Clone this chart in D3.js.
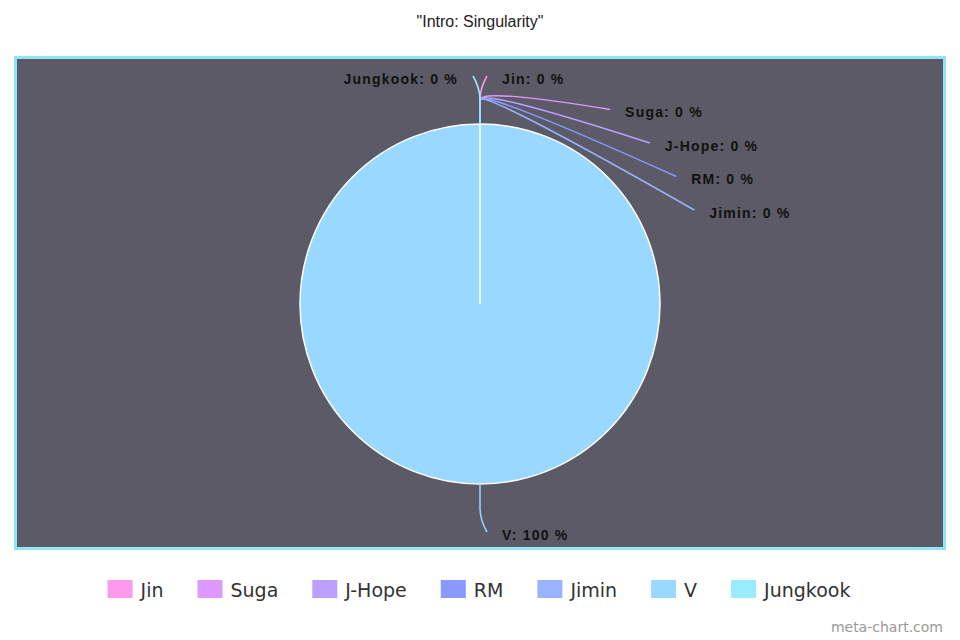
<!DOCTYPE html>
<html>
<head>
<meta charset="utf-8">
<script src="https://cdn.jsdelivr.net/npm/d3@7"></script>
<style>
  html, body { margin: 0; padding: 0; background: #ffffff; }
  svg { display: block; }
</style>
</head>
<body>
<svg id="chart" width="960" height="640"></svg>
<script>
// ---- data ----
const categories = ["Jin", "Suga", "J-Hope", "RM", "Jimin", "V", "Jungkook"];
const values = [0, 0, 0, 0, 0, 100, 0];
const colors = ["#ff99ee", "#dd99ff", "#bba0ff", "#8899ff", "#99b3ff", "#99d9ff", "#99ecff"];
const title = "\"Intro: Singularity\"";
const watermark = "meta-chart.com";

const data = categories.map((c, i) => ({ name: c, value: values[i], color: colors[i] }));
const total = d3.sum(values);

const svg = d3.select("#chart");
const W = 960, H = 640;

// title
svg.append("text")
  .attr("x", W / 2).attr("y", 27)
  .attr("text-anchor", "middle")
  .attr("font-family", "Liberation Sans, Arial, sans-serif")
  .attr("font-size", 16)
  .attr("fill", "#222")
  .text(title);

// plot box
svg.append("rect")
  .attr("x", 15.5).attr("y", 57.5)
  .attr("width", 929).attr("height", 491)
  .attr("fill", "#5b5a66")
  .attr("stroke", "#8fe6f7")
  .attr("stroke-width", 3);

const cx = 480, cy = 304, r = 180;
const g = svg.append("g").attr("transform", `translate(${cx},${cy})`);

const pie = d3.pie().sort(null).value(d => d.value);
const arcs = pie(data);
const arc = d3.arc().innerRadius(0).outerRadius(r);

g.selectAll("path.slice")
  .data(arcs)
  .join("path")
  .attr("class", "slice")
  .attr("d", arc)
  .attr("fill", d => d.data.color)
  .attr("stroke", "#ffffff")
  .attr("stroke-width", 1.5);

// label layout
const labelRy = 228, labelRx = 234, spacing = 33.5, minOff = 7;
const labels = arcs.map(d => {
  const a = (d.startAngle + d.endAngle) / 2;
  const y0 = -labelRy * Math.cos(a);
  return { d, a, right: a <= Math.PI + 1e-9, y: y0, y0 };
});
function place(group, sign) {
  group.sort((p, q) => p.y - q.y);
  for (let i = 1; i < group.length; i++) {
    if (group[i].y < group[i - 1].y + spacing) group[i].y = group[i - 1].y + spacing;
  }
  group.forEach(l => {
    const dx = (l.y === l.y0)
      ? Math.abs(labelRx * Math.sin(l.a))
      : Math.sqrt(Math.max(0, labelRx * labelRx - l.y * l.y));
    l.x = sign * Math.max(minOff, dx);
  });
}
place(labels.filter(l => l.right), 1);
place(labels.filter(l => !l.right), -1);

g.selectAll("path.leader")
  .data(labels)
  .join("path")
  .attr("class", "leader")
  .attr("fill", "none")
  .attr("stroke", l => l.d.data.color)
  .attr("stroke-width", 1.5)
  .attr("d", l => {
    const ux = Math.sin(l.a), uy = -Math.cos(l.a);
    const p = d3.path();
    p.moveTo(r * ux, r * uy);
    p.lineTo((r + 24) * ux, (r + 24) * uy);
    p.quadraticCurveTo((r + 36) * ux, (r + 36) * uy, l.x, l.y);
    return p.toString();
  });

g.selectAll("text.lbl")
  .data(labels)
  .join("text")
  .attr("class", "lbl")
  .attr("x", l => l.x + (l.right ? 15 : -15))
  .attr("y", l => l.y + 3)
  .attr("dy", "0.35em")
  .attr("text-anchor", l => l.right ? "start" : "end")
  .attr("font-family", "Liberation Sans, Arial, sans-serif")
  .attr("font-size", 14)
  .attr("font-weight", "bold")
  .attr("letter-spacing", "1.2px")
  .attr("fill", "#111")
  .text(l => `${l.d.data.name}: ${Math.round(l.d.data.value / total * 100)} %`);

// legend
const legend = svg.append("g");
const items = legend.selectAll("g.item")
  .data(data)
  .join("g")
  .attr("class", "item");
items.append("rect")
  .attr("width", 25).attr("height", 18)
  .attr("y", 580)
  .attr("fill", d => d.color);
items.append("text")
  .attr("x", 33).attr("y", 597)
  .attr("font-family", "DejaVu Sans, sans-serif")
  .attr("font-size", 19)
  .attr("fill", "#333")
  .text(d => d.name);
let xs = 0;
const offsets = [];
items.each(function () {
  const tw = d3.select(this).select("text").node().getComputedTextLength();
  offsets.push(xs);
  xs += 33 + tw + 34;
});
const totalW = xs - 34;
const startX = 479 - totalW / 2;
items.attr("transform", (d, i) => `translate(${startX + offsets[i]},0)`);

// watermark
svg.append("text")
  .attr("x", 943).attr("y", 632)
  .attr("text-anchor", "end")
  .attr("font-family", "DejaVu Sans, sans-serif")
  .attr("font-size", 14)
  .attr("fill", "#999")
  .text(watermark);
</script>
</body>
</html>
